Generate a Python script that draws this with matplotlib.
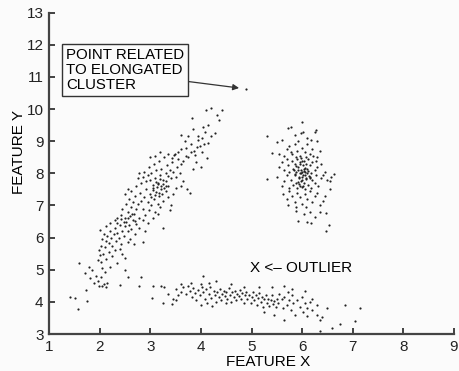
import matplotlib
matplotlib.use("Agg")
import matplotlib.pyplot as plt

plt.rcParams["font.family"] = ["Liberation Sans", "DejaVu Sans"]

# elongated cluster (approximate)
elong_x = [1.42, 1.52, 1.58, 1.60, 1.70, 1.72, 1.75, 1.78, 1.80, 1.85, 1.88, 1.92, 1.96, 1.98, 2.02, 2.05, 2.08, 2.10, 2.12, 2.15,
           2.20, 2.05, 1.97, 2.03, 2.35, 2.50, 2.55, 2.40, 2.78, 2.82, 2.00, 2.07, 2.12, 2.18, 2.25, 2.30, 2.45, 2.50,
           1.98, 2.02, 2.05, 2.08, 2.10, 2.12, 2.15, 2.18, 2.20, 2.22, 2.25, 2.28, 2.30, 2.32, 2.35, 2.38, 2.40, 2.42, 2.45, 2.48,
           2.50, 2.52, 2.55, 2.58, 2.60, 2.62, 2.65, 2.70, 2.72, 2.00, 2.12, 2.20, 2.35, 2.40, 2.55, 2.68, 2.85, 2.78, 2.90, 2.30,
           2.42, 2.45, 2.50, 2.52, 2.55, 2.58, 2.60, 2.62, 2.65, 2.68, 2.70, 2.72, 2.75, 2.78, 2.80, 2.82, 2.85, 2.88, 2.90, 2.92,
           2.95, 2.98, 3.00, 3.02, 3.05, 3.08, 3.10, 3.12, 3.15, 3.18, 3.20, 3.22, 3.25, 3.30, 3.35, 3.40, 2.62, 2.72, 2.55, 2.85,
           2.95, 3.05, 3.15, 3.25, 2.50, 3.30, 3.38, 3.45,
           2.82, 2.85, 2.88, 2.92, 2.95, 2.98, 3.00, 3.02, 3.05, 3.08, 3.10, 3.12, 3.15, 3.18, 3.20, 3.22, 3.25, 3.28, 3.30, 3.32,
           3.35, 3.38, 3.40, 3.42, 3.45, 3.48, 3.50, 3.52, 3.55, 3.58, 3.60, 3.65, 3.70, 3.72, 3.78, 3.60, 3.50, 2.78, 2.75, 3.00,
           3.10, 3.35, 3.20,
           3.43, 3.47, 3.55, 3.60, 3.69, 3.75, 3.81, 3.83, 3.85, 3.87, 3.89, 3.92, 3.98, 4.02, 4.02, 4.06, 4.08, 4.10, 4.12, 4.14,
           4.14, 4.20, 4.28, 4.32, 4.36, 4.42, 3.65, 3.75, 3.80, 3.95, 3.90, 3.70, 4.00, 3.85, 4.05, 3.95, 4.20, 3.60, 4.89,
           3.02, 3.06, 3.10, 3.14, 3.18, 3.22, 3.26, 3.30, 3.12, 3.20, 3.28, 3.34, 2.35, 2.42, 2.48, 2.56, 2.64, 2.70, 3.24, 3.16]
elong_y = [4.15, 4.12, 3.78, 5.20, 4.90, 4.38, 4.02, 5.08, 4.75, 4.98, 4.58, 4.82, 4.65, 4.50, 4.78, 4.48, 4.55, 4.92, 4.45, 4.60,
           5.08, 5.05, 5.30, 5.25, 5.22, 4.98, 4.78, 4.52, 4.50, 4.76, 5.45, 5.50, 5.35, 5.55, 5.42, 5.60, 5.50, 5.38,
           5.60, 5.75, 5.95, 6.12, 5.70, 5.88, 6.05, 5.82, 6.20, 5.98, 5.75, 6.10, 6.30, 5.90, 6.15, 6.00, 6.40, 5.80, 6.22, 6.05,
           6.35, 6.50, 6.20, 6.40, 5.95, 6.28, 6.55, 6.10, 6.42, 6.25, 6.35, 6.45, 6.60, 5.65, 5.85, 5.80, 5.85, 6.30, 6.20, 6.55,
           6.70, 6.90, 6.62, 7.05, 6.80, 7.20, 6.68, 6.95, 7.10, 6.75, 7.30, 6.88, 7.05, 6.60, 7.40, 7.15, 6.90, 7.25, 6.70, 7.50,
           7.10, 6.85, 7.35, 7.00, 7.55, 7.20, 6.80, 7.42, 7.05, 7.30, 6.95, 7.60, 7.15, 7.45, 7.25, 7.00, 7.45, 7.60, 7.50, 6.55,
           6.45, 6.60, 6.75, 6.30, 7.35, 7.75, 6.85, 7.35,
           7.70, 7.90, 8.05, 7.75, 7.95, 8.20, 7.80, 8.00, 7.65, 8.30, 7.85, 8.10, 7.70, 8.40, 7.95, 8.15, 7.80, 8.50, 8.00, 8.25,
           7.60, 8.10, 7.85, 8.35, 8.05, 8.60, 7.90, 8.20, 8.45, 8.00, 8.30, 7.75, 8.55, 7.50, 7.40, 7.60, 7.55, 8.00, 7.85, 8.50,
           8.55, 8.60, 8.65,
           8.48, 8.58, 8.67, 8.75, 9.01, 9.17, 8.67, 9.73, 9.39, 8.70, 8.58, 8.83, 8.86, 8.67, 9.10, 8.92, 9.29, 9.98, 8.48, 8.95,
           9.51, 10.04, 9.26, 9.82, 9.67, 9.98, 8.40, 8.50, 8.90, 9.15, 8.35, 8.80, 8.20, 8.15, 9.45, 9.05, 9.15, 9.20, 10.63,
           7.25, 7.48, 7.32, 7.58, 7.38, 7.52, 7.68, 7.62, 7.72, 7.82, 7.55, 7.92, 6.45, 6.58, 6.48, 6.62, 6.72, 6.52, 7.36, 7.66]

# round cluster
round_x = [5.72, 5.78, 6.00, 5.98, 6.02, 6.25, 6.28, 5.85, 5.60, 5.31, 6.18, 6.30, 5.92, 6.10,
           5.50, 5.70, 5.75, 5.80, 5.85, 5.90, 5.95, 6.00, 6.05, 6.10, 6.15, 6.20, 6.22, 6.35, 5.65, 5.41, 5.55, 6.08, 5.88, 6.30,
           5.78, 5.55, 5.60, 5.65, 5.70, 5.72, 5.75, 5.80, 5.82, 5.85, 5.88, 5.90, 5.92, 5.95, 5.98, 6.00, 6.02, 6.05, 6.08, 6.10,
           6.12, 6.15, 6.18, 6.20, 6.25, 6.28, 6.30, 6.38, 6.45, 5.95, 6.03, 5.88, 6.00,
           5.31, 5.50, 5.60, 5.65, 5.70, 5.75, 5.78, 5.82, 5.85, 5.88, 5.90, 5.93, 5.96, 6.00, 6.03, 6.06, 6.08, 6.12, 6.15, 6.18,
           6.20, 6.25, 6.28, 6.32, 6.38, 6.42, 6.50, 6.58, 6.62, 6.55, 5.98, 6.05, 5.92,
           5.62, 5.70, 5.75, 5.80, 5.85, 5.90, 5.95, 6.00, 6.05, 6.10, 6.15, 6.20, 6.25, 6.30, 6.35, 6.42, 6.45, 5.72, 5.88, 6.08,
           6.55, 6.47, 6.53, 6.18, 5.92, 6.04, 5.88, 6.26, 6.47, 6.15, 6.35, 6.10,
           5.94, 5.97, 6.01, 6.04, 6.07, 5.91, 5.99, 6.06, 6.13, 5.86, 5.96, 6.02, 6.09, 5.93, 6.16, 5.84, 6.00, 6.11, 5.97, 6.04]
round_y = [9.42, 9.45, 9.60, 9.25, 9.30, 9.30, 9.35, 9.20, 9.05, 9.17, 9.05, 9.00, 9.00, 9.10,
           8.98, 8.75, 8.85, 8.60, 8.90, 8.70, 8.55, 8.80, 8.65, 8.90, 8.60, 8.75, 8.55, 8.70, 8.55, 8.64, 8.60, 8.50, 8.52, 8.50,
           8.68, 8.20, 8.35, 8.10, 8.45, 8.25, 8.05, 8.40, 8.15, 8.30, 8.05, 8.45, 8.20, 8.35, 8.10, 8.40, 8.25, 8.05, 8.30, 8.15,
           8.45, 8.25, 8.00, 8.35, 8.10, 8.40, 8.20, 8.30, 8.05, 8.00, 8.15, 8.22, 8.05,
           7.83, 7.90, 7.60, 7.75, 7.95, 7.55, 7.80, 7.65, 7.95, 7.70, 7.55, 7.85, 7.60, 7.90, 7.70, 7.50, 7.85, 7.65, 7.90, 7.55,
           7.80, 7.70, 7.95, 7.60, 7.85, 7.95, 7.80, 7.90, 7.98, 7.75, 7.75, 7.95, 7.72,
           7.35, 7.20, 7.45, 7.30, 7.10, 7.40, 7.25, 7.05, 7.35, 7.20, 7.45, 7.10, 7.30, 7.40, 7.00, 7.15, 7.30, 7.00, 6.95, 6.95,
           7.50, 6.21, 6.40, 6.46, 6.52, 6.74, 6.83, 6.64, 6.77, 6.80, 6.80, 6.50,
           7.88, 8.02, 7.95, 8.08, 7.82, 8.12, 7.78, 8.18, 7.92, 7.98, 8.28, 7.62, 8.02, 7.68, 7.85, 8.12, 7.58, 8.08, 8.48, 8.38]

# bottom cluster
flat_x = [3.05, 3.04, 3.25, 3.43, 3.22, 3.28, 3.35, 3.45, 3.50, 3.55, 3.60, 3.65, 3.70, 3.75, 3.78, 3.82, 3.85, 3.88, 3.90, 3.95,
          3.98, 4.00, 4.02, 4.04, 4.05, 4.08, 4.10, 4.12, 4.15, 4.18, 4.20, 4.22, 4.25, 4.28, 4.30, 4.32, 4.35, 4.38, 4.40, 4.42,
          4.45, 4.48, 4.50, 4.52, 4.55, 4.58, 4.60, 4.62, 4.65, 4.68, 4.70, 4.72, 4.75, 4.78, 4.80, 4.82, 4.85, 4.88, 4.90, 4.92,
          4.95, 4.98, 5.00, 5.02, 5.05, 5.08, 5.10, 5.12, 5.15, 5.18, 5.20, 5.22, 5.25, 5.28, 5.30, 5.32, 5.35, 5.38, 5.40, 5.42,
          5.45, 5.48, 5.50, 5.52, 5.55, 5.60, 5.62, 5.65, 5.70, 5.72, 5.75, 5.78, 5.80, 5.82, 5.85, 5.90, 5.95, 6.00, 6.02, 6.05,
          6.10, 6.15, 6.20, 6.30, 6.30, 6.35, 6.40, 6.10, 5.65, 5.45, 5.25, 6.35, 6.60, 6.75, 6.85, 7.05, 7.15, 6.50, 3.60, 3.80,
          4.30, 4.60, 5.40, 5.80, 5.65, 6.05, 6.20, 3.50, 4.00, 4.15, 4.50, 4.85, 5.15]
flat_y = [4.50, 4.12, 3.97, 3.93, 4.48, 4.45, 4.25, 4.10, 4.40, 4.20, 4.32, 4.45, 4.25, 4.50, 4.35, 4.15, 4.42, 4.28, 4.05, 4.38,
          4.20, 3.90, 4.45, 4.81, 4.30, 4.10, 4.40, 3.95, 4.25, 4.45, 4.12, 3.88, 4.35, 4.20, 4.00, 4.30, 4.15, 4.40, 4.05, 4.25,
          4.35, 4.18, 4.30, 4.10, 4.42, 4.22, 4.00, 4.30, 4.15, 4.35, 4.05, 4.25, 4.18, 4.38, 4.10, 4.28, 3.95, 4.20, 4.32, 4.08,
          4.22, 3.98, 4.15, 4.30, 4.05, 4.20, 3.90, 4.12, 4.28, 4.00, 4.15, 3.85, 4.08, 4.22, 3.95, 4.10, 3.88, 4.05, 4.20, 3.92,
          4.02, 3.85, 4.10, 3.95, 4.25, 4.08, 3.82, 4.15, 3.90, 4.30, 4.05, 3.75, 4.20, 3.95, 3.60, 4.05, 3.85, 4.15, 3.70, 3.95,
          3.82, 4.00, 3.75, 3.90, 3.60, 3.45, 3.52, 3.55, 3.45, 3.60, 3.70, 3.10, 3.20, 3.30, 3.90, 3.40, 3.80, 3.80, 4.55, 4.60,
          4.65, 4.55, 4.45, 4.40, 4.50, 4.35, 4.10, 4.05, 4.55, 4.60, 3.95, 4.45, 4.45]

x_ticks = [1, 2, 3, 4, 5, 6, 7, 8, 9]
y_ticks = [3, 4, 5, 6, 7, 8, 9, 10, 11, 12, 13]
point_xy = (4.89, 10.63)
outlier_xy = (4.97, 5.05)

fig = plt.figure(figsize=(4.59, 3.71), dpi=100, facecolor="#fbfbfb")
ax = fig.add_axes([0.107, 0.0997, 0.882, 0.866])
ax.set_facecolor("#fbfbfb")

for xs, ys in [(elong_x, elong_y), (round_x, round_y), (flat_x, flat_y)]:
    ax.scatter(xs, ys, s=2.5, color="#222222", linewidths=0)

ax.set_xlim(1, 9)
ax.set_ylim(3, 13)
ax.set_xticks(x_ticks)
ax.set_yticks(y_ticks)
ax.tick_params(direction="in", length=4, width=1.2, labelsize=11, colors="#222222", pad=4)
for side in ["top", "right"]:
    ax.spines[side].set_visible(False)
for side in ["left", "bottom"]:
    ax.spines[side].set_linewidth(1.6)
    ax.spines[side].set_color("#444444")

ax.set_xlabel("FEATURE X", fontsize=11)
ax.xaxis.set_label_coords(0.54, -0.066)
ax.set_ylabel("FEATURE Y", fontsize=11)
ax.yaxis.set_label_coords(-0.058, 0.567)

ax.annotate("POINT RELATED\nTO ELONGATED\nCLUSTER", xy=point_xy, xytext=(1.33, 11.22),
            ha="left", va="center", fontsize=10.8, linespacing=1.1,
            bbox=dict(boxstyle="square,pad=0.28", fc="#fbfbfb", ec="#333333", lw=1.0),
            arrowprops=dict(arrowstyle="-|>", color="#333333", lw=0.9, mutation_scale=9,
                            relpos=(1.0, 0.25), shrinkA=0, shrinkB=5))

ax.text(outlier_xy[0], outlier_xy[1], "X <\u2013 OUTLIER", ha="left", va="center", fontsize=11)

fig.savefig("out.png", dpi=100, facecolor=fig.get_facecolor())
